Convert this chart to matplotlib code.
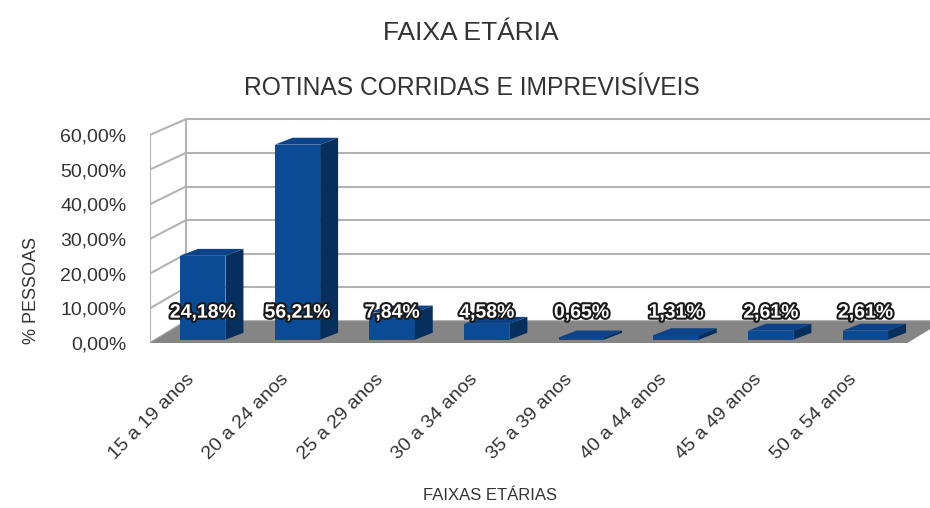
import matplotlib
matplotlib.use("Agg")
import matplotlib.pyplot as plt
import matplotlib.patheffects as pe
import matplotlib.transforms as mtransforms
from matplotlib.patches import Polygon

plt.rcParams['font.family'] = ['Liberation Sans', 'DejaVu Sans']

# data
faixas = ["15 a 19 anos", "20 a 24 anos", "25 a 29 anos", "30 a 34 anos",
          "35 a 39 anos", "40 a 44 anos", "45 a 49 anos", "50 a 54 anos"]
pessoas = [24.18, 56.21, 7.84, 4.58, 0.65, 1.31, 2.61, 2.61]
rotulos = ["24,18%", "56,21%", "7,84%", "4,58%", "0,65%", "1,31%", "2,61%", "2,61%"]
yticks = [0, 10, 20, 30, 40, 50, 60]
yticklabels = ["0,00%", "10,00%", "20,00%", "30,00%", "40,00%", "50,00%", "60,00%"]

# fake 3d settings (data units)
ddx, ddy, s = 0.38, 6.3, 0.97      # depth of the whole box, back wall scale
f0 = 0.15                          # where bars start in depth
bdx, bdy = 0.19, 2.0               # bar depth
w = 0.48
grid_c = "#b3b3b3"
txt_c = "#333333"

fig = plt.figure(figsize=(9.30, 5.08), dpi=100)
ax = fig.add_axes([150/930, 165/508, 780/930, 229/508])
ax.set_xlim(-0.5, 7.74)
ax.set_ylim(0, 66)
for sp in ax.spines.values():
    sp.set_visible(False)

n = len(pessoas)
x0, x1 = -0.5, n - 0.5

# back wall grid + left wall
for v in yticks:
    yb = ddy + v * s
    ax.plot([x0 + ddx, x1 + ddx], [yb, yb], color=grid_c, lw=1.5, zorder=1, clip_on=True)
    ax.plot([x0, x0 + ddx], [v, yb], color=grid_c, lw=1.5, zorder=1)
ax.plot([x0, x0], [0, 60], color=grid_c, lw=1.5, zorder=1)
ax.plot([x0 + ddx, x0 + ddx], [ddy, ddy + 60 * s], color=grid_c, lw=1.5, zorder=1)

# floor
ax.add_patch(Polygon([[x0, 0], [x1, 0], [x1 + ddx, ddy], [x0 + ddx, ddy]],
                     closed=True, facecolor="#858585", edgecolor="none", zorder=2))

# bars
xs = [i + f0 * ddx for i in range(n)]
base = f0 * ddy
ax.bar(xs, pessoas, width=w, bottom=base, color="#0b4a95", zorder=4)
for xc, v in zip(xs, pessoas):
    l, r = xc - w / 2, xc + w / 2
    top = base + v
    ax.add_patch(Polygon([[l, top], [r, top], [r + bdx, top + bdy], [l + bdx, top + bdy]],
                         closed=True, facecolor="#0c4287", edgecolor="none", zorder=4))
    ax.add_patch(Polygon([[r, base], [r + bdx, base + bdy], [r + bdx, top + bdy], [r, top]],
                         closed=True, facecolor="#062f5e", edgecolor="none", zorder=4))

# value labels
for i, t in enumerate(rotulos):
    ax.text(i + 0.06, 8.6, t, ha="center", va="center", fontsize=14, fontweight="bold",
            color="white", zorder=6,
            path_effects=[pe.withStroke(linewidth=3, foreground="#1a1a1a")])

ax.set_yticks(yticks)
ax.set_yticklabels(yticklabels, fontsize=14, color=txt_c)
ax.tick_params(axis="y", length=0, pad=17)
ax.set_xticks(range(n))
ax.set_xticklabels(faixas, rotation=45, ha="right", va="center", rotation_mode="anchor",
                   fontsize=14, color=txt_c)
ax.tick_params(axis="x", length=0, pad=24)
shift = mtransforms.ScaledTranslation(-6/100, 0, fig.dpi_scale_trans)
for lab in ax.get_xticklabels():
    lab.set_transform(lab.get_transform() + shift)

fig.text(471/930, 1 - 33/508, "FAIXA ETÁRIA", ha="center", va="center", fontsize=19, color=txt_c)
fig.text(472/930, 1 - 88/508, "ROTINAS CORRIDAS E IMPREVISÍVEIS", ha="center", va="center",
         fontsize=17.7, color=txt_c)
fig.text(31/930, 1 - 291/508, "% PESSOAS", rotation=90, ha="center", va="center",
         fontsize=13, color=txt_c)
fig.text(490/930, 1 - 496/508, "FAIXAS ETÁRIAS", ha="center", va="center",
         fontsize=12, color=txt_c)

fig.savefig("out.png", dpi=100)
